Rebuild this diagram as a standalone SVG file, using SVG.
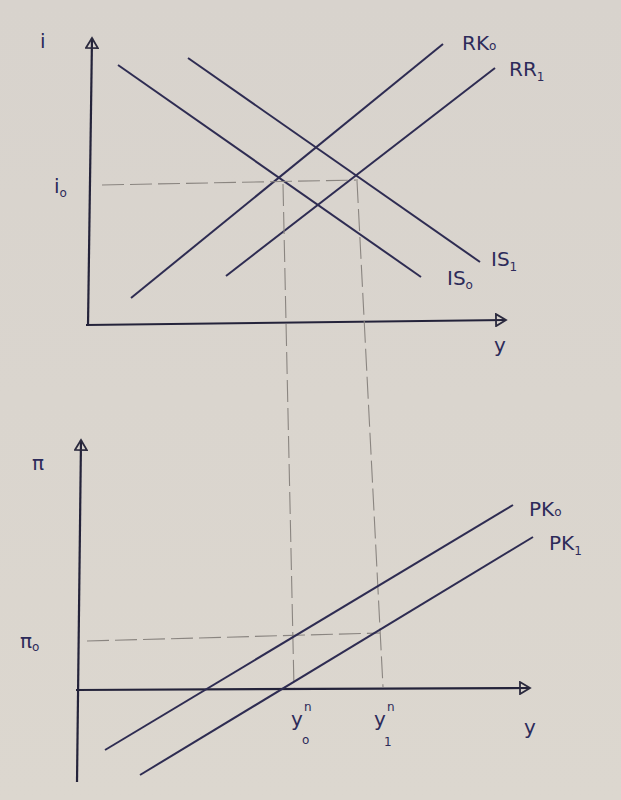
<svg xmlns="http://www.w3.org/2000/svg" width="621" height="800" viewBox="0 0 621 800">
<defs>
<linearGradient id="paper" x1="0" y1="0" x2="0" y2="1">
<stop offset="0" stop-color="#d8d3cd"/>
<stop offset="1" stop-color="#dcd7cf"/>
</linearGradient>
<marker id="tri" viewBox="0 0 14 14" refX="12" refY="7" markerWidth="14" markerHeight="14" markerUnits="userSpaceOnUse" orient="auto">
<path d="M2,1 L12,7 L2,13 Z" fill="none" stroke="#2b2a3e" stroke-width="1.8"/>
</marker>
</defs>
<style>
.ax{stroke:#24233a;stroke-width:2.2;fill:none}
.cv{stroke:#2e2c52;stroke-width:2;fill:none}
.dash{stroke:#8a8580;stroke-width:1.1;fill:none;stroke-dasharray:22 6}
.t{font-family:"DejaVu Sans","Liberation Sans",sans-serif;fill:#2d2b5a;font-size:20px}
.s{font-size:12px}
</style>
<rect width="621" height="800" fill="url(#paper)"/>

<g id="connectors">
<line id="top-i-axis" class="ax" x1="88" y1="326" x2="92" y2="38" marker-end="url(#tri)"/>
<line id="top-y-axis" class="ax" x1="86" y1="325" x2="506" y2="320" marker-end="url(#tri)"/>
<line id="IS0" class="cv" x1="118" y1="65" x2="421" y2="277"/>
<line id="IS1" class="cv" x1="188" y1="58" x2="480" y2="262"/>
<line id="RK0" class="cv" x1="131" y1="298" x2="443" y2="44"/>
<line id="RR1" class="cv" x1="226" y1="276" x2="495" y2="68"/>
<line class="dash" x1="102" y1="185" x2="358" y2="180"/>
<line class="dash" x1="283" y1="184" x2="294" y2="688"/>
<line class="dash" x1="357" y1="181" x2="383" y2="687"/>
<line class="dash" x1="87" y1="641" x2="380" y2="633"/>
<line id="bottom-pi-axis" class="ax" x1="77" y1="782" x2="81" y2="440" marker-end="url(#tri)"/>
<line id="bottom-y-axis" class="ax" x1="76" y1="690" x2="530" y2="688" marker-end="url(#tri)"/>
<line id="PK0" class="cv" x1="105" y1="750" x2="513" y2="505"/>
<line id="PK1" class="cv" x1="140" y1="775" x2="533" y2="537"/>
</g>

<g id="label-i"><text class="t" x="40" y="48">i</text></g>
<g id="label-i0"><text class="t" x="54" y="193">i<tspan class="s" dy="4">o</tspan></text></g>
<g id="label-y-top"><text class="t" x="494" y="352">y</text></g>
<g id="label-RK0"><text class="t" x="462" y="50">RK<tspan class="s">o</tspan></text></g>
<g id="label-RR1"><text class="t" x="509" y="76">RR<tspan class="s" dy="5">1</tspan></text></g>
<g id="label-IS0"><text class="t" x="447" y="285">IS<tspan class="s" dy="4">o</tspan></text></g>
<g id="label-IS1"><text class="t" x="491" y="266" font-size="15">IS<tspan class="s" dy="5">1</tspan></text></g>
<g id="label-pi"><text class="t" x="32" y="470">π</text></g>
<g id="label-pi0"><text class="t" x="20" y="648">π<tspan class="s" dy="3">o</tspan></text></g>
<g id="label-PK0"><text class="t" x="529" y="516">PK<tspan class="s">o</tspan></text></g>
<g id="label-PK1"><text class="t" x="549" y="550">PK<tspan class="s" dy="5">1</tspan></text></g>
<g id="label-y0n"><text class="t" x="291" y="726">y</text><text class="t s" x="304" y="711">n</text><text class="t s" x="302" y="744">o</text></g>
<g id="label-y1n"><text class="t" x="374" y="726">y</text><text class="t s" x="387" y="711">n</text><text class="t s" x="384" y="746">1</text></g>
<g id="label-y-bottom"><text class="t" x="524" y="734">y</text></g>
</svg>
